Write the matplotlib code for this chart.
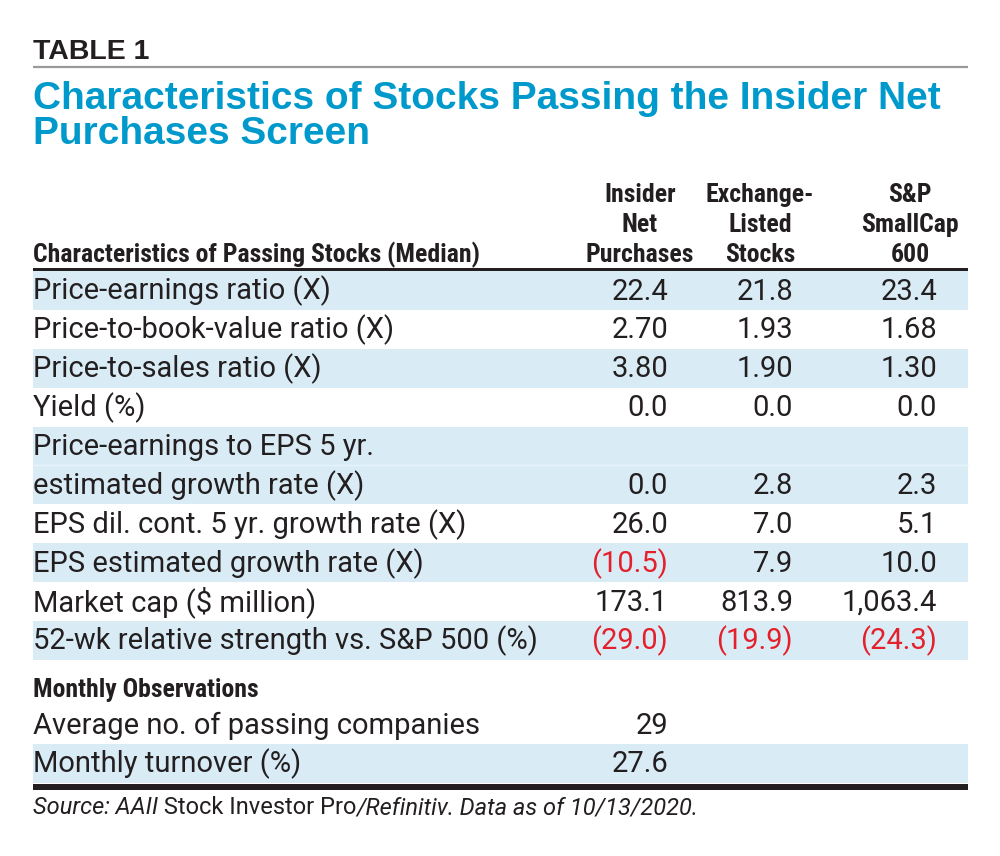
import matplotlib
matplotlib.use("Agg")
import matplotlib.pyplot as plt
from matplotlib import font_manager as fm
from matplotlib.patches import Rectangle

# ---------------- data ----------------
row_labels = [
    "Price-earnings ratio (X)",
    "Price-to-book-value ratio (X)",
    "Price-to-sales ratio (X)",
    "Yield (%)",
    "Price-earnings to EPS 5 yr.\nestimated growth rate (X)",
    "EPS dil. cont. 5 yr. growth rate (X)",
    "EPS estimated growth rate (X)",
    "Market cap (\\$ million)",
    "52-wk relative strength vs. S&P 500 (%)",
]
insider_net = [22.4, 2.70, 3.80, 0.0, 0.0, 26.0, -10.5, 173.1, -29.0]
exchange_listed = [21.8, 1.93, 1.90, 0.0, 2.8, 7.0, 7.9, 813.9, -19.9]
sp_smallcap_600 = [23.4, 1.68, 1.30, 0.0, 2.3, 5.1, 10.0, 1063.4, -24.3]
decimals = [1, 2, 2, 1, 1, 1, 1, 1, 1]

column_headers = ["Insider\nNet\nPurchases", "Exchange-\nListed\nStocks", "S&P\nSmallCap\n600"]
stub_header = "Characteristics of Passing Stocks (Median)"

monthly_labels = ["Average no. of passing companies", "Monthly turnover (%)"]
monthly_values = ["29", "27.6"]

# ---------------- fonts ----------------
fonts = fm.fontManager.ttflist
avail = {f.name for f in fonts}
italic_ok = {f.name for f in fonts if f.style == "italic"}
COND = next((n for n in ["Roboto Condensed", "Liberation Sans Narrow", "DejaVu Sans"] if n in avail))
BODY = next((n for n in ["Roboto", "Liberation Sans", "DejaVu Sans"] if n in avail))
SRC = BODY if BODY in italic_ok else "DejaVu Sans"
HEAD = next((n for n in ["Liberation Sans", "Arimo", "DejaVu Sans"] if n in avail))

BLUE_T = "#0099cc"
BAND = "#d9ecf6"
RED = "#e3202b"
INK = "#231f20"

W, H = 1000, 856
fig = plt.figure(figsize=(W / 100, H / 100), dpi=100)
ax = fig.add_axes([0, 0, 1, 1])
ax.set_xlim(0, W)
ax.set_ylim(H, 0)
ax.axis("off")

X0, X1 = 33, 968

# header block
ax.text(X0, 59, "TABLE 1", family=HEAD, weight="bold", fontsize=20.5, color=INK, va="baseline")
ax.plot([X0, X1], [67, 67], color="#9a9a9a", lw=1.6, solid_capstyle="butt")
ax.text(X0, 109, "Characteristics of Stocks Passing the Insider Net", family=HEAD, weight="bold",
        fontsize=28, color=BLUE_T, va="baseline")
ax.text(X0, 144, "Purchases Screen", family=HEAD, weight="bold",
        fontsize=28, color=BLUE_T, va="baseline")

# column headers
HDR_FS = 18.5
col_centers = [640, 760, 910]
col_rights = [668, 793, 937]
hdr_base = [202, 232, 262]
for cx, hdr in zip(col_centers, column_headers):
    for j, line in enumerate(hdr.split("\n")):
        ax.text(cx, hdr_base[j], line, family=COND, weight="bold", fontsize=HDR_FS,
                color=INK, ha="center", va="baseline")
ax.text(X0, 262, stub_header, family=COND, weight="bold", fontsize=HDR_FS, color=INK, va="baseline")
ax.add_patch(Rectangle((X0, 267.5), X1 - X0, 3.5, color=INK, lw=0))

# body rows
RH = 38.9
BODY_FS = 21
BASE = 28.5
y = 271
for i, lab in enumerate(row_labels):
    lines = lab.split("\n")
    h = RH * len(lines)
    if i % 2 == 0:
        ax.add_patch(Rectangle((X0, y), X1 - X0, h, color=BAND, lw=0, zorder=0))
        if len(lines) > 1:
            ax.plot([X0, X1], [y + RH, y + RH], color="#e8f3f9", lw=1, zorder=0.5)
    for j, ln in enumerate(lines):
        ax.text(X0, y + BASE + j * RH, ln, family=BODY, fontsize=BODY_FS, color=INK, va="baseline")
    vb = y + BASE + (len(lines) - 1) * RH
    for series, xr in zip([insider_net, exchange_listed, sp_smallcap_600], col_rights):
        v = series[i]
        s = f"{abs(v):,.{decimals[i]}f}"
        if v < 0:
            s = f"({s})"
        ax.text(xr, vb, s, family=BODY, fontsize=BODY_FS, color=RED if v < 0 else INK,
                ha="right", va="baseline")
    y += h

# monthly observations
ax.text(X0, 697, "Monthly Observations", family=COND, weight="bold", fontsize=HDR_FS, color=INK,
        va="baseline")
y = 705
for k, (lab, val) in enumerate(zip(monthly_labels, monthly_values)):
    if k % 2 == 1:
        ax.add_patch(Rectangle((X0, y), X1 - X0, RH, color=BAND, lw=0, zorder=0))
    ax.text(X0, y + BASE, lab, family=BODY, fontsize=BODY_FS, color=INK, va="baseline")
    ax.text(col_rights[0], y + BASE, val, family=BODY, fontsize=BODY_FS, color=INK,
            ha="right", va="baseline")
    y += RH
ax.add_patch(Rectangle((X0, 784), X1 - X0, 5.5, color=INK, lw=0))

# source line with mixed styles
SRC_FS = 17
parts = [("Source: AAII", "italic"), (" Stock Investor Pro", "normal"),
         ("/Refinitiv. Data as of 10/13/2020.", "italic")]
prev = ax.text(X0, 814, parts[0][0], family=SRC, style=parts[0][1], fontsize=SRC_FS,
               color=INK, va="baseline")
for txt, st in parts[1:]:
    prev = ax.annotate(txt, xy=(1, 0), xycoords=prev, family=SRC, style=st, fontsize=SRC_FS,
                       color=INK, va="bottom", ha="left")

fig.savefig("out.png", dpi=100)
